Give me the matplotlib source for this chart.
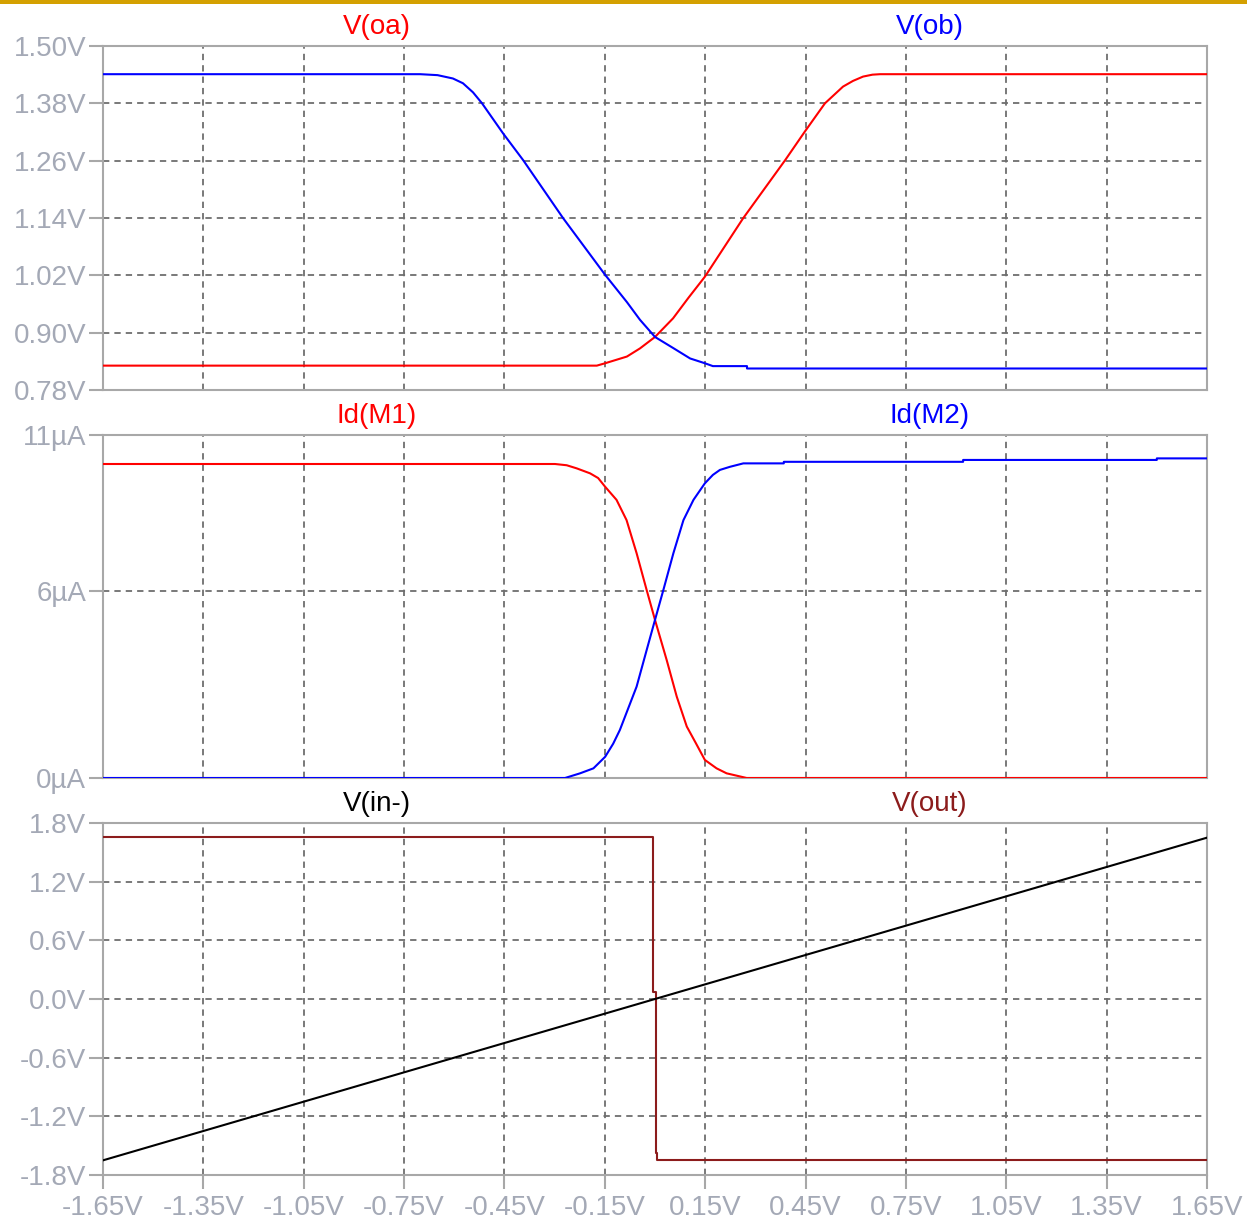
import matplotlib
matplotlib.use('Agg')
import matplotlib.pyplot as plt
from matplotlib.patches import Rectangle

plt.rcParams['font.family'] = ['Liberation Sans', 'DejaVu Sans']

# ---------------- data ----------------
x_ticks = [-1.65, -1.35, -1.05, -0.75, -0.45, -0.15, 0.15, 0.45, 0.75, 1.05, 1.35, 1.65]
x_tick_labels = ['-1.65V', '-1.35V', '-1.05V', '-0.75V', '-0.45V', '-0.15V',
                 '0.15V', '0.45V', '0.75V', '1.05V', '1.35V', '1.65V']

p1_yticks = [0.78, 0.90, 1.02, 1.14, 1.26, 1.38, 1.50]
p1_ylabels = ['0.78V', '0.90V', '1.02V', '1.14V', '1.26V', '1.38V', '1.50V']
p2_yticks = [0, 6, 11]
p2_ylabels = ['0µA', '6µA', '11µA']
p3_yticks = [-1.8, -1.2, -0.6, 0.0, 0.6, 1.2, 1.8]
p3_ylabels = ['-1.8V', '-1.2V', '-0.6V', '0.0V', '0.6V', '1.2V', '1.8V']

# Panel 1: V(oa) (red), V(ob) (blue)
v_oa_x = [-1.65, -0.174, -0.149, -0.084, -0.045, 0.0, 0.054, 0.10, 0.149, 0.263,
          0.389, 0.448, 0.508, 0.562, 0.592, 0.622, 0.650, 0.673, 1.65]
v_oa_y = [0.831, 0.831, 0.836, 0.850, 0.867, 0.891, 0.930, 0.973, 1.017, 1.139,
          1.261, 1.321, 1.380, 1.415, 1.427, 1.436, 1.440, 1.441, 1.441]
v_ob_x = [-1.65, -0.702, -0.650, -0.604, -0.574, -0.544, -0.517, -0.454, -0.394,
          -0.275, -0.149, -0.084, -0.045, 0.0, 0.054, 0.105, 0.149, 0.173,
          0.275, 0.275, 1.65]
v_ob_y = [1.441, 1.441, 1.439, 1.432, 1.422, 1.403, 1.380, 1.317, 1.261,
          1.140, 1.021, 0.964, 0.927, 0.891, 0.868, 0.846, 0.836, 0.830,
          0.830, 0.825, 0.825]

# Panel 2: Id(M1) (red), Id(M2) (blue), in µA
id_m1_x = [-1.65, -0.299, -0.264, -0.234, -0.194, -0.170, -0.149, -0.115, -0.085,
           -0.055, -0.025, 0.0, 0.035, 0.065, 0.095, 0.122, 0.149, 0.184, 0.214,
           0.274, 1.65]
id_m1_y = [10.07, 10.07, 10.03, 9.93, 9.77, 9.62, 9.34, 8.92, 8.27,
           7.21, 6.03, 5.07, 3.78, 2.61, 1.65, 1.12, 0.58, 0.31, 0.15,
           0.0, 0.0]
id_m2_x = [-1.65, -0.269, -0.224, -0.184, -0.149, -0.125, -0.105, -0.055, -0.025,
           0.0, 0.025, 0.055, 0.085, 0.115, 0.149, 0.173, 0.194, 0.224, 0.264,
           0.385, 0.385, 0.921, 0.921, 1.50, 1.50, 1.65]
id_m2_y = [0.0, 0.0, 0.15, 0.31, 0.68, 1.10, 1.54, 2.93, 4.10,
           5.07, 6.03, 7.21, 8.27, 8.92, 9.45, 9.72, 9.88, 9.98, 10.09,
           10.09, 10.14, 10.14, 10.20, 10.20, 10.25, 10.25]

# Panel 3: V(in-) (black), V(out) (dark red)
v_in_x = [-1.65, 1.65]
v_in_y = [-1.65, 1.65]
v_out_x = [-1.65, -0.005, -0.005, 0.002, 0.002, 0.007, 0.007, 1.65]
v_out_y = [1.66, 1.66, 0.075, 0.075, -1.578, -1.578, -1.65, -1.65]

# ---------------- style ----------------
RED = '#ff0000'
BLUE = '#0000ff'
BLACK = '#000000'
DARKRED = '#8c1c1c'
TICKCOL = '#a4a9b6'
SPINECOL = '#a8a8a8'
GRIDCOL = '#6e6e6e'
FS = 20

fig = plt.figure(figsize=(12.47, 12.24), dpi=100)
fig.patch.set_facecolor('white')
fig.add_artist(Rectangle((0, 1 - 4 / 1224), 1, 4 / 1224, transform=fig.transFigure,
                         facecolor='#d4a000', edgecolor='none'))

left = 103 / 1247
width = (1207 - 103) / 1247
H = 1224


def make_ax(top_px, bottom_px):
    return fig.add_axes([left, 1 - bottom_px / H, width, (bottom_px - top_px) / H])


ax1 = make_ax(46, 390)
ax2 = make_ax(435, 778)
ax3 = make_ax(823, 1175)

panels = [
    (ax1, (0.78, 1.50), p1_yticks, p1_ylabels,
     [(v_oa_x, v_oa_y, RED), (v_ob_x, v_ob_y, BLUE)],
     [('V(oa)', RED), ('V(ob)', BLUE)]),
    (ax2, (0, 11), p2_yticks, p2_ylabels,
     [(id_m1_x, id_m1_y, RED), (id_m2_x, id_m2_y, BLUE)],
     [('Id(M1)', RED), ('Id(M2)', BLUE)]),
    (ax3, (-1.8, 1.8), p3_yticks, p3_ylabels,
     [(v_out_x, v_out_y, DARKRED), (v_in_x, v_in_y, BLACK)],
     [('V(in-)', BLACK), ('V(out)', DARKRED)]),
]

for i, (ax, ylim, yt, yl, series, titles) in enumerate(panels):
    for xs, ys, c in series:
        ax.plot(xs, ys, color=c, lw=1.5, solid_joinstyle='round', zorder=3)
    ax.set_xlim(-1.65, 1.65)
    ax.set_ylim(*ylim)
    ax.set_xticks(x_ticks)
    ax.set_yticks(yt)
    ax.set_yticklabels(yl)
    ax.set_axisbelow(True)
    ax.grid(True, color=GRIDCOL, linestyle=(0, (3.5, 2.8)), linewidth=1.3)
    for s in ax.spines.values():
        s.set_color(SPINECOL)
        s.set_linewidth(1.5)
        s.set_zorder(2.5)
    ax.tick_params(axis='y', direction='out', length=10, width=1.5, color=SPINECOL,
                   labelcolor=TICKCOL, labelsize=FS, pad=2)
    if i < 2:
        ax.tick_params(axis='x', length=0, labelbottom=False)
    else:
        ax.set_xticklabels(x_tick_labels)
        ax.tick_params(axis='x', direction='out', length=10, width=1.5, color=SPINECOL,
                       labelcolor=TICKCOL, labelsize=FS, pad=4.5)
    for (txt, c), fx in zip(titles, (0.248, 0.749)):
        ax.annotate(txt, xy=(fx, 1), xycoords='axes fraction', xytext=(0, 14),
                    textcoords='offset points', ha='center', va='center',
                    color=c, fontsize=FS)

fig.savefig('out.png', dpi=100, facecolor='white')
